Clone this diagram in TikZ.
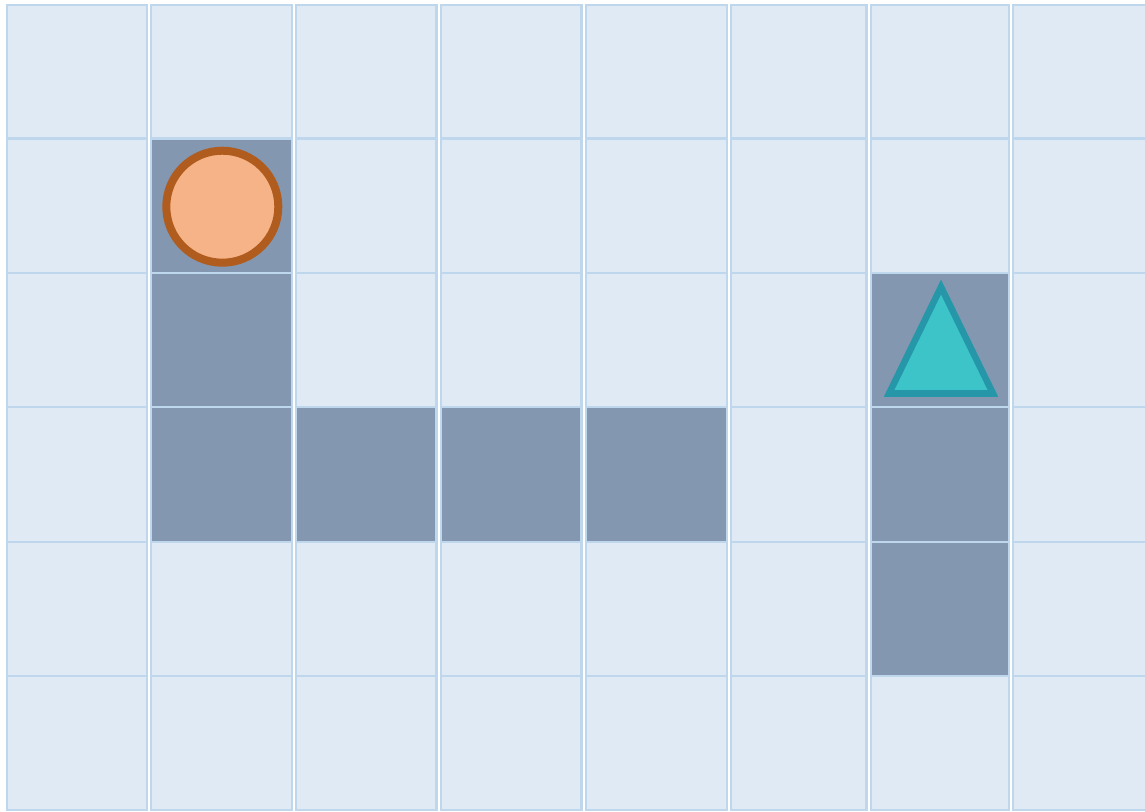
\documentclass[tikz,border=0pt]{standalone}
\definecolor{cellfill}{HTML}{DFEAF5}
\definecolor{cellborder}{HTML}{BFD7ED}
\definecolor{wallfill}{HTML}{8497B0}
\definecolor{agentfill}{HTML}{F6B387}
\definecolor{agentdraw}{HTML}{B05C1F}
\definecolor{goalfill}{HTML}{3CC4C8}
\definecolor{goaldraw}{HTML}{2597A9}
\begin{document}
\begin{tikzpicture}[x=0.75pt,y=-0.75pt,
  cell/.style={fill=cellfill,draw=cellborder,line width=1.7pt},
  wall/.style={fill=wallfill,draw=cellborder,line width=1.7pt},
  agent/.style={fill=agentfill,draw=agentdraw,line width=6pt},
  goal/.style={fill=goalfill,draw=goaldraw,line width=4.9pt,miter limit=10}]
\useasboundingbox (0,0) rectangle (1145,811);
\fill[white] (0,0) rectangle (1145,811);
\foreach \l/\r [count=\i] in {7.2/147,151.2/292,296.2/436.5,441.2/581.5,586.2/727,731.2/866.5,871.2/1009,1013.2/1152}{
  \foreach \t/\b [count=\j] in {5/138.5,138.5/273,273/407,407/542,542/676,676/809.7}{
    \coordinate (c\i-\j-nw) at (\l,\t);
    \coordinate (c\i-\j-se) at (\r,\b);
    \draw[cell] (c\i-\j-nw) rectangle (c\i-\j-se);
  }
}
\foreach \i/\j in {2/2,2/3,2/4,3/4,4/4,5/4,7/3,7/4,7/5}{
  \draw[wall] (c\i-\j-nw) rectangle (c\i-\j-se);
}
\coordinate (agentc) at (222.3,206.7);
\draw[agent] (agentc) circle[radius=42pt];
\coordinate (ga) at (941,287);
\coordinate (gl) at (889,393.5);
\coordinate (gr) at (993,393.5);
\draw[goal] (gl) -- (ga) -- (gr) -- cycle;
\end{tikzpicture}
\end{document}
